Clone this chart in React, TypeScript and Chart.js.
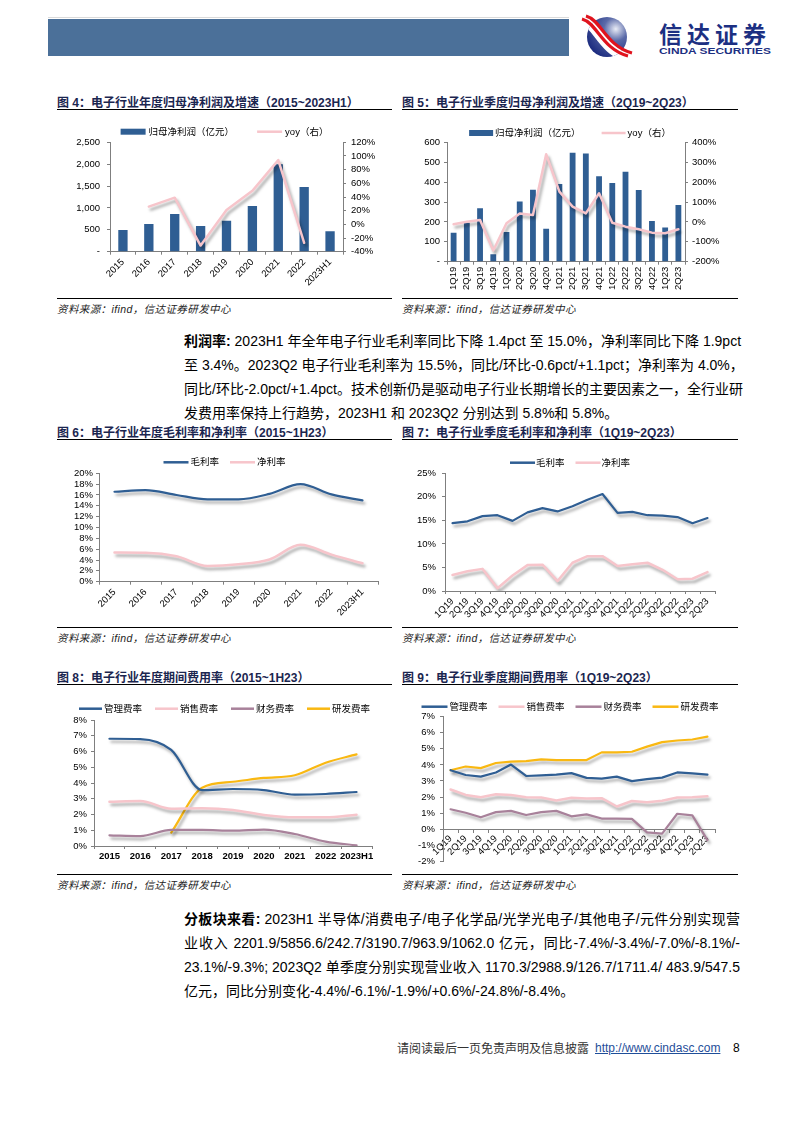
import React, { useEffect, useRef } from "react";
import { Chart, registerables } from "chart.js";
Chart.register(...registerables);

const FONT = '"Liberation Sans", Arial, "Noto Sans CJK SC", sans-serif';
const AXIS = "#7f7f7f";
const BLUE = "#2f5e93";
const PINK = "#f7c5cb";
const MAUVE = "#a8819a";
const GOLD = "#f9b812";

// ---------- Data ----------
const annualCats = ["2015", "2016", "2017", "2018", "2019", "2020", "2021", "2022", "2023H1"];
const annualProfit = [495, 633, 861, 587, 709, 1044, 2000, 1478, 465];
const annualProfitYoy = [null, 26, 39, -31, 21, 49, 94, -27, null];

const quarterCats = ["1Q19", "2Q19", "3Q19", "4Q19", "1Q20", "2Q20", "3Q20", "4Q20", "1Q21", "2Q21", "3Q21", "4Q21", "1Q22", "2Q22", "3Q22", "4Q22", "1Q23", "2Q23"];
const quarterProfit = [146, 196, 268, 38, 149, 303, 362, 166, 390, 548, 544, 429, 395, 452, 360, 204, 172, 285];
const quarterProfitYoy = [-12, 1, 10, -144, -7, 42, 35, 340, 152, 77, 43, 144, -4, -24, -37, -54, -57, -37];

const annualGross = [16.6, 16.9, 16.0, 15.2, 15.2, 16.2, 18.0, 16.1, 15.0];
const annualNet = [5.4, 5.35, 4.7, 2.9, 3.2, 4.1, 6.8, 5.0, 3.4];

const quarterGross = [14.4, 14.8, 15.9, 16.1, 14.9, 16.7, 17.6, 16.9, 18.0, 19.4, 20.6, 16.6, 16.8, 16.1, 16.0, 15.7, 14.4, 15.5];
const quarterNet = [3.4, 4.2, 4.7, 0.6, 3.3, 5.5, 5.6, 2.1, 6.0, 7.4, 7.4, 5.3, 5.7, 6.0, 4.5, 2.5, 2.6, 4.0];

const annualAdmin = [6.81, 6.79, 6.1, 3.55, 3.62, 3.55, 3.26, 3.3, 3.43];
const annualSales = [2.81, 2.86, 2.37, 2.39, 2.29, 1.97, 1.82, 1.82, 1.99];
const annualFinance = [0.68, 0.63, 1.02, 1.02, 0.97, 1.04, 0.76, 0.28, 0.04];
const annualRnd = [null, null, 0.85, 3.7, 4.08, 4.32, 4.49, 5.29, 5.82];

const quarterAdmin = [3.67, 3.37, 3.27, 3.53, 4.02, 3.31, 3.35, 3.39, 3.49, 3.19, 3.15, 3.27, 2.99, 3.11, 3.21, 3.53, 3.47, 3.39];
const quarterSales = [2.47, 2.13, 1.99, 2.17, 2.13, 1.99, 1.97, 1.79, 1.95, 1.91, 1.93, 1.41, 1.75, 1.67, 1.77, 1.97, 1.99, 2.05];
const quarterFinance = [1.24, 1.02, 0.74, 1.06, 1.14, 0.88, 1.06, 1.14, 0.8, 0.92, 0.66, 0.66, 0.64, -0.2, -0.28, 0.96, 0.86, -0.68];
const quarterRnd = [3.67, 3.9, 3.8, 4.12, 4.2, 4.24, 4.34, 4.3, 4.3, 4.3, 4.78, 4.78, 4.82, 5.14, 5.42, 5.52, 5.58, 5.76];

const profitLabel = "归母净利润（亿元）";
const yoyLabel = "yoy（右）";
const grossLabel = "毛利率";
const netLabel = "净利率";
const expenseLabels = ["管理费率", "销售费率", "财务费率", "研发费率"];

// ---------- Plugins ----------
const shadowPlugin = {
  id: "lineShadow",
  beforeDatasetDraw(chart: any, args: any) {
    if (args.meta.type !== "line") return;
    const ctx = chart.ctx;
    ctx.save();
    ctx.shadowColor = "rgba(0,0,0,0.35)";
    ctx.shadowBlur = 3;
    ctx.shadowOffsetX = 2;
    ctx.shadowOffsetY = 3;
  },
  afterDatasetDraw(chart: any, args: any) {
    if (args.meta.type !== "line") return;
    chart.ctx.restore();
  },
};

const legendPlugin = {
  id: "customLegend",
  afterDraw(chart: any, _args: any, opts: any) {
    if (!opts || opts.y == null) return;
    const ctx = chart.ctx;
    const items = chart.data.datasets.map((ds: any) => {
      const bar = ds.type === "bar" || (!ds.type && chart.config.type === "bar");
      return { text: ds.label, bar, color: bar ? ds.backgroundColor : ds.borderColor };
    });
    ctx.save();
    ctx.font = `${opts.fontSize}px ${FONT}`;
    ctx.textBaseline = "middle";
    const widths = items.map((it: any) => opts.symbolW + opts.textGap + ctx.measureText(it.text).width);
    const total = widths.reduce((a: number, b: number) => a + b, 0) + opts.itemGap * (items.length - 1);
    let x = chart.width / 2 + (opts.dx || 0) - total / 2;
    const y = opts.y;
    items.forEach((it: any, i: number) => {
      if (it.bar) {
        ctx.fillStyle = it.color;
        ctx.fillRect(x, y - opts.boxH / 2, opts.symbolW, opts.boxH);
      } else {
        ctx.strokeStyle = it.color;
        ctx.lineWidth = 2.5;
        ctx.beginPath();
        ctx.moveTo(x, y);
        ctx.lineTo(x + opts.symbolW, y);
        ctx.stroke();
      }
      ctx.fillStyle = "#000";
      ctx.fillText(it.text, x + opts.symbolW + opts.textGap, y + 0.5);
      x += widths[i] + opts.itemGap;
    });
    ctx.restore();
  },
};

// ---------- Helpers ----------
const tickFont = { family: FONT, size: 9.5 };

function yAxis(o: { min: number; max: number; step: number; fmt: (v: number) => string; pos?: string; width: number; pad: number }) {
  return {
    type: "linear",
    position: o.pos || "left",
    min: o.min,
    max: o.max,
    afterFit: (s: any) => {
      s.width = o.width;
    },
    ticks: { stepSize: o.step, callback: (v: any) => o.fmt(Number(v)), font: tickFont, color: "#000", padding: o.pad, autoSkip: false },
    grid: { display: true, drawOnChartArea: false, drawTicks: true, tickLength: 3, color: AXIS },
    border: { display: true, color: AXIS, width: 1 },
  };
}

function xAxis(o: { rot: number; height?: number; pad: number; position?: any; bold?: boolean }) {
  const s: any = {
    type: "category",
    offset: true,
    grid: { display: true, offset: true, drawOnChartArea: false, drawTicks: true, tickLength: 3, color: AXIS },
    border: { display: true, color: AXIS, width: 1 },
    ticks: {
      autoSkip: false,
      maxRotation: o.rot,
      minRotation: o.rot,
      font: { ...tickFont, weight: o.bold ? "bold" : "normal" },
      color: "#000",
      padding: o.pad,
    },
  };
  if (o.position) s.position = o.position;
  if (o.height != null)
    s.afterFit = (sc: any) => {
      sc.height = o.height;
    };
  return s;
}

function lineDs(label: string, data: any[], color: string, extra: any = {}) {
  return {
    type: "line",
    label,
    data,
    borderColor: color,
    backgroundColor: color,
    borderWidth: 2.2,
    pointRadius: 0,
    pointHoverRadius: 0,
    borderJoinStyle: "round",
    borderCapStyle: "round",
    tension: 0,
    spanGaps: false,
    ...extra,
  };
}

function baseOptions(padding: any, legend: any, scales: any) {
  return {
    responsive: false,
    animation: false,
    layout: { padding },
    plugins: {
      legend: { display: false },
      tooltip: { enabled: false },
      customLegend: { fontSize: 9.5, boxH: 6, ...legend },
    },
    scales,
  };
}

const comma = (v: number) => (v === 0 ? "-" : v.toLocaleString("en-US"));
const pct = (v: number) => `${v}%`;
const smooth = { cubicInterpolationMode: "monotone" };

// ---------- Chart configs ----------
const chart4 = {
  type: "bar",
  data: {
    labels: annualCats,
    datasets: [
      { type: "bar", label: profitLabel, data: annualProfit, backgroundColor: BLUE, barPercentage: 0.36, categoryPercentage: 1, yAxisID: "y", order: 2 },
      lineDs(yoyLabel, annualProfitYoy, PINK, { yAxisID: "y1", order: 1, borderWidth: 2.5 }),
    ],
  },
  options: baseOptions(
    { top: 30.3, left: 0, right: 0, bottom: 0 },
    { y: 19.7, symbolW: 25, textGap: 3, itemGap: 23 },
    {
      x: xAxis({ rot: 45, height: 40.3, pad: 2 }),
      y: yAxis({ min: 0, max: 2500, step: 500, fmt: comma, width: 53, pad: 7 }),
      y1: yAxis({ min: -40, max: 120, step: 20, fmt: pct, pos: "right", width: 49, pad: 5 }),
    }
  ),
};

const chart5 = {
  type: "bar",
  data: {
    labels: quarterCats,
    datasets: [
      { type: "bar", label: profitLabel, data: quarterProfit, backgroundColor: BLUE, barPercentage: 0.44, categoryPercentage: 1, yAxisID: "y", order: 2 },
      lineDs(yoyLabel, quarterProfitYoy, PINK, { yAxisID: "y1", order: 1, borderWidth: 2.5 }),
    ],
  },
  options: baseOptions(
    { top: 30.3, left: 0, right: 0, bottom: 0 },
    { y: 21, symbolW: 24, textGap: 2, itemGap: 21 },
    {
      x: xAxis({ rot: 90, height: 30.3, pad: 2 }),
      y: yAxis({ min: 0, max: 600, step: 100, fmt: (v) => (v === 0 ? "-" : String(v)), width: 45, pad: 4 }),
      y1: yAxis({ min: -200, max: 400, step: 100, fmt: pct, pos: "right", width: 53, pad: 4 }),
    }
  ),
};

const chart6 = {
  type: "line",
  data: {
    labels: annualCats,
    datasets: [lineDs(grossLabel, annualGross, BLUE, smooth), lineDs(netLabel, annualNet, PINK, { ...smooth, borderWidth: 2.5 })],
  },
  options: baseOptions(
    { top: 31.3, left: 0, right: 14, bottom: 0 },
    { y: 20.3, symbolW: 25, textGap: 2, itemGap: 11 },
    {
      x: xAxis({ rot: 45, height: 40.3, pad: 2 }),
      y: yAxis({ min: 0, max: 20, step: 2, fmt: pct, width: 42, pad: 3 }),
    }
  ),
};

const chart7 = {
  type: "line",
  data: {
    labels: quarterCats,
    datasets: [lineDs(grossLabel, quarterGross, BLUE), lineDs(netLabel, quarterNet, PINK, { borderWidth: 2.5 })],
  },
  options: baseOptions(
    { top: 31.3, left: 0, right: 23, bottom: 0 },
    { y: 20.7, symbolW: 25, textGap: 1, itemGap: 11 },
    {
      x: xAxis({ rot: 45, height: 31, pad: 2 }),
      y: yAxis({ min: 0, max: 25, step: 5, fmt: pct, width: 43, pad: 6 }),
    }
  ),
};

const chart8 = {
  type: "line",
  data: {
    labels: annualCats,
    datasets: [
      lineDs(expenseLabels[0], annualAdmin, BLUE, smooth),
      lineDs(expenseLabels[1], annualSales, PINK, { ...smooth, borderWidth: 2.5 }),
      lineDs(expenseLabels[2], annualFinance, MAUVE, smooth),
      lineDs(expenseLabels[3], annualRnd, GOLD, smooth),
    ],
  },
  options: baseOptions(
    { top: 31, left: 0, right: 20, bottom: 0 },
    { y: 19.7, symbolW: 23, textGap: 2, itemGap: 13 },
    {
      x: xAxis({ rot: 0, height: 26, pad: 2, bold: true }),
      y: yAxis({ min: 0, max: 8, step: 1, fmt: pct, width: 37, pad: 4 }),
    }
  ),
};

const chart9 = {
  type: "line",
  data: {
    labels: quarterCats,
    datasets: [
      lineDs(expenseLabels[0], quarterAdmin, BLUE),
      lineDs(expenseLabels[1], quarterSales, PINK, { borderWidth: 2.5 }),
      lineDs(expenseLabels[2], quarterFinance, MAUVE),
      lineDs(expenseLabels[3], quarterRnd, GOLD),
    ],
  },
  options: baseOptions(
    { top: 27.7, left: 0, right: 23, bottom: 6 },
    { y: 17.7, symbolW: 26, textGap: 2, itemGap: 11 },
    {
      x: xAxis({ rot: 45, pad: 1, position: { y: 0 } }),
      y: yAxis({ min: -2, max: 7, step: 1, fmt: pct, width: 41, pad: 5 }),
    }
  ),
};

// ---------- Components ----------
function ChartBox(props: { left: number; top: number; width: number; height: number; config: any }) {
  const ref = useRef<HTMLCanvasElement>(null);
  useEffect(() => {
    const c = new Chart(ref.current as HTMLCanvasElement, { ...props.config, plugins: [shadowPlugin, legendPlugin] } as any);
    return () => c.destroy();
  }, []);
  return (
    <canvas
      ref={ref}
      width={props.width}
      height={props.height}
      style={{ position: "absolute", left: props.left, top: props.top, width: props.width, height: props.height }}
    />
  );
}

const abs = (left: number, top: number, extra: any = {}): React.CSSProperties => ({ position: "absolute", left, top, ...extra });

function FigTitle(p: { left: number; top: number; width: number; text: string }) {
  return (
    <>
      <div style={abs(p.left, p.top - 7, { fontSize: 12, fontWeight: "bold", lineHeight: "14px", whiteSpace: "nowrap", color: "#1b2650", fontFamily: FONT })}>{p.text}</div>
      <div style={abs(p.left, p.top + 6, { width: p.width, height: 1, background: "#000" })} />
    </>
  );
}

function Source(p: { left: number; top: number; width: number }) {
  return (
    <>
      <div style={abs(p.left, p.top, { width: p.width, height: 1, background: "#000" })} />
      <div style={abs(p.left, p.top + 4, { fontSize: 10.5, fontStyle: "italic", lineHeight: "14px", whiteSpace: "nowrap", color: "#222", fontFamily: FONT, letterSpacing: "0.4px" })}>
        资料来源：ifind，信达证券研发中心
      </div>
    </>
  );
}

function Para(p: { top: number; lines: React.ReactNode[] }) {
  return (
    <div style={abs(184, p.top, { width: 556, fontSize: 14, lineHeight: "24px", fontFamily: FONT, color: "#000" })}>
      {p.lines.map((l, i) => (
        <div key={i} style={{ textAlign: "justify", textAlignLast: i === p.lines.length - 1 ? "left" : "justify", whiteSpace: "nowrap" }}>
          {l}
        </div>
      ))}
    </div>
  );
}

function Logo() {
  return (
    <svg style={abs(580, 14)} width={200} height={46} viewBox="0 0 200 46">
      <defs>
        <radialGradient id="lg" cx="0.72" cy="0.3" r="0.85">
          <stop offset="0" stopColor="#e9ecf6" />
          <stop offset="0.35" stopColor="#5a6aa8" />
          <stop offset="1" stopColor="#14247a" />
        </radialGradient>
        <clipPath id="cc">
          <circle cx="27" cy="23" r="20" />
        </clipPath>
      </defs>
      <circle cx="27" cy="23" r="20" fill="url(#lg)" />
      <g clipPath="url(#cc)">
        <path d="M4,6 C18,10 22,36 50,44" stroke="#ffffff" strokeWidth="11" fill="none" />
      </g>
      <path d="M2,5 C17,9 22,35 48,42" stroke="#e0141e" strokeWidth="3.2" fill="none" />
      <path d="M6,2 C21,6 26,32 52,39" stroke="#e0141e" strokeWidth="3.2" fill="none" />
      <text x="79" y="29" fontSize="23" fontWeight="bold" fill="#1c2f82" fontFamily='"Noto Sans CJK SC", sans-serif' letterSpacing="5">
        信达证券
      </text>
      <text x="79" y="40" fontSize="9.5" fontWeight="bold" fill="#1c2f82" fontFamily='"Liberation Sans", Arial, sans-serif' textLength="112" lengthAdjust="spacingAndGlyphs">
        CINDA SECURITIES
      </text>
    </svg>
  );
}

export default function App() {
  return (
    <div style={{ position: "absolute", left: 0, top: 0, width: 794, height: 1123, background: "#fff", fontFamily: FONT, overflow: "hidden" }}>
      {/* Header */}
      <div style={abs(48, 17, { width: 521, height: 1, background: "#dadada" })} />
      <div style={abs(48, 19, { width: 521, height: 37, background: "#4b7099" })} />
      <Logo />

      {/* Row 1 */}
      <FigTitle left={57} top={103} width={335} text="图 4：电子行业年度归母净利润及增速（2015~2023H1）" />
      <FigTitle left={402} top={103} width={336} text="图 5：电子行业季度归母净利润及增速（2Q19~2Q23）" />
      <ChartBox left={57} top={112} width={335} height={180} config={chart4} />
      <ChartBox left={402} top={112} width={336} height={180} config={chart5} />
      <Source left={57} top={298} width={335} />
      <Source left={402} top={298} width={336} />

      <Para
        top={329}
        lines={[
          <>
            <b>利润率:</b> 2023H1 年全年电子行业毛利率同比下降 1.4pct 至 15.0%，净利率同比下降 1.9pct
          </>,
          "至 3.4%。2023Q2 电子行业毛利率为 15.5%，同比/环比-0.6pct/+1.1pct；净利率为 4.0%，",
          "同比/环比-2.0pct/+1.4pct。技术创新仍是驱动电子行业长期增长的主要因素之一，全行业研",
          "发费用率保持上行趋势，2023H1 和 2023Q2 分别达到 5.8%和 5.8%。",
        ]}
      />

      {/* Row 2 */}
      <FigTitle left={57} top={433} width={335} text="图 6：电子行业年度毛利率和净利率（2015~1H23）" />
      <FigTitle left={402} top={433} width={336} text="图 7：电子行业季度毛利率和净利率（1Q19~2Q23）" />
      <ChartBox left={57} top={442} width={335} height={180} config={chart6} />
      <ChartBox left={402} top={442} width={336} height={180} config={chart7} />
      <Source left={57} top={627} width={335} />
      <Source left={402} top={627} width={336} />

      {/* Row 3 */}
      <FigTitle left={57} top={678} width={335} text="图 8：电子行业年度期间费用率（2015~1H23）" />
      <FigTitle left={402} top={678} width={336} text="图 9：电子行业季度期间费用率（1Q19~2Q23）" />
      <ChartBox left={57} top={689} width={335} height={183} config={chart8} />
      <ChartBox left={402} top={689} width={336} height={183} config={chart9} />
      <Source left={57} top={874} width={335} />
      <Source left={402} top={874} width={336} />

      <Para
        top={907}
        lines={[
          <>
            <b>分板块来看:</b> 2023H1 半导体/消费电子/电子化学品/光学光电子/其他电子/元件分别实现营
          </>,
          "业收入 2201.9/5856.6/242.7/3190.7/963.9/1062.0 亿元，同比-7.4%/-3.4%/-7.0%/-8.1%/-",
          "23.1%/-9.3%; 2023Q2 单季度分别实现营业收入 1170.3/2988.9/126.7/1711.4/ 483.9/547.5",
          "亿元，同比分别变化-4.4%/-6.1%/-1.9%/+0.6%/-24.8%/-8.4%。",
        ]}
      />

      {/* Footer */}
      <div style={abs(397, 1040, { fontSize: 12, lineHeight: "16px", color: "#333", whiteSpace: "nowrap", fontFamily: '"Noto Sans CJK SC", sans-serif' })}>
        请阅读最后一页免责声明及信息披露
      </div>
      <div style={abs(595, 1040, { fontSize: 12, lineHeight: "16px", color: "#1f4e99", textDecoration: "underline", whiteSpace: "nowrap" })}>
        http://www.cindasc.com
      </div>
      <div style={abs(733, 1040, { fontSize: 12, lineHeight: "16px", color: "#000" })}>8</div>
    </div>
  );
}
